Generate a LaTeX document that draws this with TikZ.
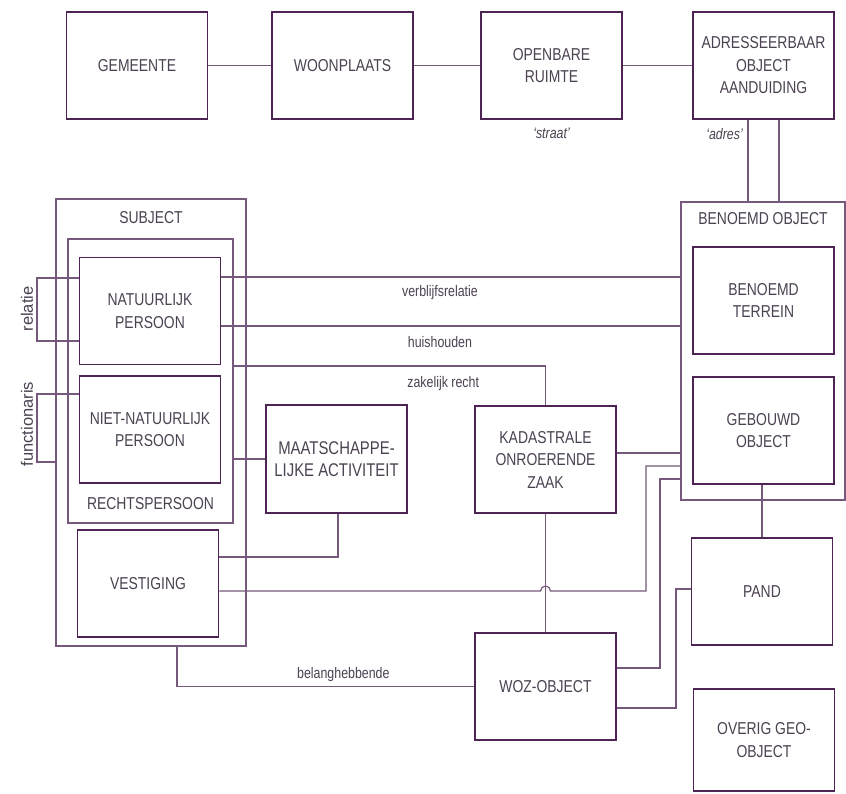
\documentclass[tikz,border=0pt]{standalone}
\usepackage{fontspec}
\usepackage{xcolor}
\usetikzlibrary{positioning}
\setmainfont{Liberation Sans}[FakeStretch=0.81]
\newfontfamily\plainsans{Liberation Sans}
\definecolor{boxline}{RGB}{78,36,84}
\definecolor{conline}{RGB}{118,88,124}
\definecolor{tekst}{RGB}{76,66,82}
\newcommand{\boxfont}{\fontsize{17.2}{22.5}\selectfont}
\newcommand{\lblfont}{\fontsize{15.3}{18}\selectfont}
\newcommand{\zijfont}{\plainsans\fontsize{16.5}{20}\selectfont}
\tikzset{
  entiteit/.style={draw=boxline, line width=1.9pt, minimum width=141pt, minimum height=107pt,
    inner sep=0pt, align=center, text=tekst, font=\boxfont},
  groep/.style={draw=conline, line width=1.1pt, inner sep=0pt},
  kop/.style={inner sep=0pt, text=tekst, font=\boxfont},
  lijn/.style={draw=conline, line width=1.2pt},
  rol/.style={inner sep=0pt, text=tekst, font=\lblfont},
}
\begin{document}
\begin{tikzpicture}[x=1pt, y=-1pt]
\path[fill=white, use as bounding box] (0,0) rectangle (846,793);

\node[groep, minimum width=190pt, minimum height=447pt] (subject) at (151,422.5) {};
\node[groep, minimum width=165pt, minimum height=284pt] (rechts) at (150.5,381) {};
\node[groep, minimum width=164pt, minimum height=298pt] (benoemd) at (763,351) {};
\node[kop, below=13pt of subject.north] (subjecttitel) {SUBJECT};
\node[kop, above=14pt of rechts.south] (rechtstitel) {RECHTSPERSOON};
\node[kop, below=11pt of benoemd.north] (benoemdtitel) {BENOEMD OBJECT};

\node[entiteit] (gemeente) at (137,65.5) {GEMEENTE};
\node[entiteit] (woonplaats) at (342.5,65.5) {WOONPLAATS};
\node[entiteit] (openbare) at (551.5,65.5) {OPENBARE\\RUIMTE};
\node[entiteit] (adres) at (763.5,65.5) {ADRESSEERBAAR\\OBJECT\\AANDUIDING};
\node[entiteit] (natuurlijk) at (150,311) {NATUURLIJK\\PERSOON};
\node[entiteit] (nietnatuurlijk) at (150,429.5) {NIET-NATUURLIJK\\PERSOON};
\node[entiteit] (vestiging) at (148,583.5) {VESTIGING};
\node[entiteit, minimum height=108pt, font=\fontsize{18.4}{22}\selectfont] (maatschappelijk) at (336.5,459) {MAATSCHAPPE-\\LIJKE ACTIVITEIT};
\node[entiteit] (kadastraal) at (545.5,459.5) {KADASTRALE\\ONROERENDE\\ZAAK};
\node[entiteit] (woz) at (545.5,686.5) {WOZ-OBJECT};
\node[entiteit] (terrein) at (763.5,300.5) {BENOEMD\\TERREIN};
\node[entiteit] (gebouwd) at (763.5,430.5) {GEBOUWD\\OBJECT};
\node[entiteit] (pand) at (762,591.5) {PAND};
\node[entiteit, minimum height=102pt] (overig) at (764,740) {OVERIG GEO-\\OBJECT};

\draw[lijn] (gemeente) -- (woonplaats);
\draw[lijn] (woonplaats) -- (openbare);
\draw[lijn] (openbare) -- (adres);
\coordinate (adreslinks) at ([xshift=-15.5pt]adres.south);
\coordinate (adresrechts) at ([xshift=15.5pt]adres.south);
\draw[lijn] (adreslinks) -- (adreslinks |- benoemd.north);
\draw[lijn] (adresrechts) -- (adresrechts |- benoemd.north);
\node[rol, font=\lblfont\itshape, below=8pt of openbare] (straat) {`straat'};
\node[rol, font=\lblfont\itshape, below left=8pt and 5pt of adreslinks] (adreslabel) {`adres'};

\coordinate (verblijf) at ([yshift=34pt]natuurlijk.east);
\coordinate (huis) at ([yshift=-15pt]natuurlijk.east);
\coordinate (zakelijk) at ([yshift=15pt]rechts.east);
\draw[lijn] (verblijf) -- (verblijf -| benoemd.west) node[rol, pos=.476, anchor=base, yshift=-19pt] {verblijfsrelatie};
\draw[lijn] (huis) -- (huis -| benoemd.west) node[rol, pos=.476, anchor=base, yshift=-21pt] {huishouden};
\draw[lijn] (zakelijk) -| (kadastraal.north) node[rol, pos=.336, anchor=base, yshift=-21pt] {zakelijk recht};

\draw[lijn] (rechts.east |- maatschappelijk.west) -- (maatschappelijk.west);
\draw[lijn] ([xshift=1.5pt]maatschappelijk.south) |- ([yshift=26.5pt]vestiging.east);

\draw[lijn] (kadastraal) -- (woz);
\coordinate (sprong) at (kadastraal.south |- 0,591);
\coordinate (knik1) at (646,466);
\draw[lijn] ([yshift=-7.5pt]vestiging.east) -- ([xshift=-5pt]sprong) arc[start angle=180, end angle=0, radius=5pt] -| (knik1) -- (knik1 -| benoemd.west);
\coordinate (kadoost) at ([yshift=6.5pt]kadastraal.east);
\draw[lijn] (kadoost) -- (kadoost -| benoemd.west);
\coordinate (knik2) at (660,479);
\draw[lijn] ([yshift=18.5pt]woz.east) -| (knik2) -- (knik2 -| benoemd.west);
\coordinate (knik3) at (676,589);
\draw[lijn] ([yshift=-21.5pt]woz.east) -| (knik3) -- (knik3 -| pand.west);
\draw[lijn] (pand.north |- gebouwd.south) -- (pand.north);

\coordinate (belang) at (177,0);
\draw[lijn] (woz.west) -| (subject.south -| belang) node[rol, pos=.22, anchor=base, yshift=8pt] {belanghebbende};

\coordinate (lus) at (37,0);
\coordinate (relboven) at ([yshift=33pt]natuurlijk.west);
\coordinate (relonder) at ([yshift=-30pt]natuurlijk.west);
\draw[lijn] (relboven) -| (lus |- relonder) -- (relonder);
\node[rol, font=\zijfont, rotate=90] (relatie) at (27,309) {relatie};
\coordinate (funcboven) at ([yshift=35.5pt]nietnatuurlijk.west);
\coordinate (funconder) at (subject.west |- 0,462);
\draw[lijn] (funcboven) -| (lus |- funconder) -- (funconder);
\node[rol, font=\zijfont, rotate=90] (functionaris) at (27,424) {functionaris};
\end{tikzpicture}
\end{document}
